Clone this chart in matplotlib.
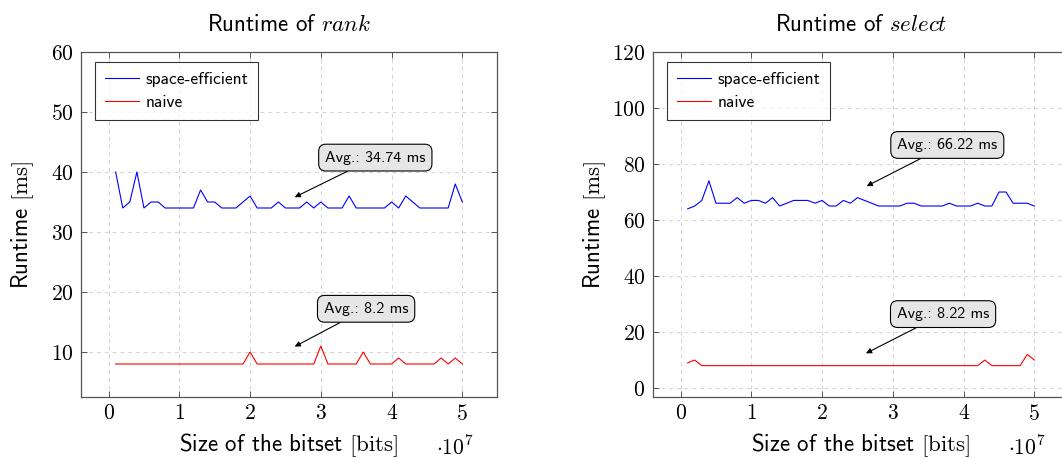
import numpy as np
import matplotlib
matplotlib.use("Agg")
import matplotlib.pyplot as plt
from matplotlib.ticker import FuncFormatter, FixedLocator

plt.rcParams['font.family'] = ['cmss10', 'DejaVu Sans']
plt.rcParams['mathtext.fontset'] = 'cm'
plt.rcParams['axes.unicode_minus'] = False
plt.rcParams['axes.formatter.use_mathtext'] = True

# bitset sizes in bits
sizes = np.arange(1, 51) * 1_000_000

rank_space = [40, 34, 35, 40, 34, 35, 35, 34, 34, 34,
              34, 34, 37, 35, 35, 34, 34, 34, 35, 36,
              34, 34, 34, 35, 34, 34, 34, 35, 34, 35,
              34, 34, 34, 36, 34, 34, 34, 34, 34, 35,
              34, 36, 35, 34, 34, 34, 34, 34, 38, 35]
rank_naive = [8, 8, 8, 8, 8, 8, 8, 8, 8, 8,
              8, 8, 8, 8, 8, 8, 8, 8, 8, 10,
              8, 8, 8, 8, 8, 8, 8, 8, 8, 11,
              8, 8, 8, 8, 8, 10, 8, 8, 8, 8,
              9, 8, 8, 8, 8, 8, 9, 8, 9, 8]
select_space = [64, 65, 67, 74, 66, 66, 66, 68, 66, 67,
                67, 66, 68, 65, 66, 67, 67, 67, 66, 67,
                65, 65, 67, 66, 68, 67, 66, 65, 65, 65,
                65, 66, 66, 65, 65, 65, 65, 66, 65, 65,
                65, 66, 65, 65, 70, 70, 66, 66, 66, 65]
select_naive = [9, 10, 8, 8, 8, 8, 8, 8, 8, 8,
                8, 8, 8, 8, 8, 8, 8, 8, 8, 8,
                8, 8, 8, 8, 8, 8, 8, 8, 8, 8,
                8, 8, 8, 8, 8, 8, 8, 8, 8, 8,
                8, 8, 10, 8, 8, 8, 8, 8, 12, 10]

x_ticks = [0, 1e7, 2e7, 3e7, 4e7, 5e7]
rank_yticks = [10, 20, 30, 40, 50, 60]
select_yticks = [0, 20, 40, 60, 80, 100, 120]

series_labels = ["space-efficient", "naive"]
titles = ["Runtime of $rank$", "Runtime of $select$"]
xlabel = "Size of the bitset $[\\mathrm{bits}]$"
ylabel = "Runtime $[\\mathrm{ms}]$"

W, H = 1062, 459
fig = plt.figure(figsize=(W / 100, H / 100), dpi=100)

def px_rect(l, t, r, b):
    return [l / W, (H - b) / H, (r - l) / W, (b - t) / H]

ax1 = fig.add_axes(px_rect(81, 52, 497, 397))
ax2 = fig.add_axes(px_rect(653, 52, 1069, 397))

panels = [
    (ax1, rank_space, rank_naive, rank_yticks, (2.5, 60),
     [("Avg.: 34.74 ms", (2.63e7, 35.8), (3.77e7, 42.4)),
      ("Avg.: 8.2 ms", (2.63e7, 10.9), (3.64e7, 17.2))]),
    (ax2, select_space, select_naive, select_yticks, (-3.2, 120),
     [("Avg.: 66.22 ms", (2.63e7, 72.1), (3.77e7, 86.8)),
      ("Avg.: 8.22 ms", (2.62e7, 12.4), (3.71e7, 26.4))]),
]

xfmt = FuncFormatter(lambda v, p: "$%g$" % (v / 1e7))
yfmt = FuncFormatter(lambda v, p: "$%g$" % v)

for i, (ax, sp, nv, yt, ylim, annots) in enumerate(panels):
    ax.plot(sizes, sp, color='blue', lw=0.8, label=series_labels[0])
    ax.plot(sizes, nv, color='red', lw=0.8, label=series_labels[1])
    ax.set_xlim(-0.39e7, 5.49e7)
    ax.set_ylim(*ylim)
    ax.xaxis.set_major_locator(FixedLocator(x_ticks))
    ax.yaxis.set_major_locator(FixedLocator(yt))
    ax.xaxis.set_major_formatter(xfmt)
    ax.yaxis.set_major_formatter(yfmt)
    ax.grid(True, color='#d3d3d3', ls=(0, (4, 4)), lw=0.7)
    ax.set_axisbelow(True)
    ax.tick_params(direction='in', length=4, width=0.7, color='#555555',
                   top=True, right=True, labelsize=15.5)
    ax.tick_params(axis='y', pad=5.5)
    ax.tick_params(axis='x', pad=5)
    for s in ax.spines.values():
        s.set_color('#555555')
        s.set_linewidth(0.9)
    ax.set_title(titles[i], fontsize=16.5, pad=15)
    ax.set_xlabel(xlabel, fontsize=16.5)
    ax.xaxis.set_label_coords(0.5, -0.1)
    ax.set_ylabel(ylabel, fontsize=16.5)
    ax.yaxis.set_label_coords(-0.108, 0.5)
    ax.text(0.9, -0.145, "$\\cdot 10^{7}$", transform=ax.transAxes,
            fontsize=15.5, ha='center', va='center')
    leg = ax.legend(loc='upper left', bbox_to_anchor=(14 / 416, 1 - 10.5 / 345),
                    fontsize=12.5, frameon=True,
                    fancybox=False, edgecolor='black', handlelength=2.0,
                    borderaxespad=0.0, borderpad=0.55, labelspacing=0.45,
                    handletextpad=0.35)
    leg.get_frame().set_linewidth(0.8)
    for txt, tip, ctr in annots:
        ax.annotate(txt, xy=tip, xytext=ctr, fontsize=11.5, ha='center',
                    va='center',
                    bbox=dict(boxstyle='round,pad=0.4,rounding_size=0.45',
                              fc='#e6e6e6', ec='black', lw=0.8),
                    arrowprops=dict(arrowstyle='-|>', color='black', lw=0.8,
                                    mutation_scale=8, shrinkA=0, shrinkB=0))

fig.savefig("out.png", dpi=100)
